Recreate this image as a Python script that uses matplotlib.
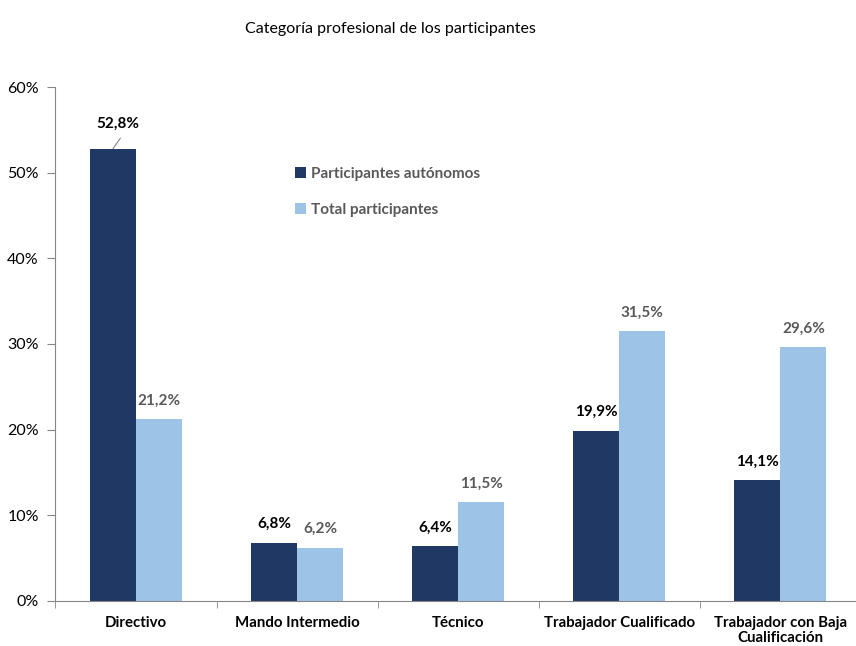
import matplotlib.pyplot as plt
import numpy as np

# Datos
categorias = ["Directivo", "Mando Intermedio", "Técnico", "Trabajador Cualificado",
              "Trabajador con Baja\nCualificación"]
autonomos = [52.8, 6.8, 6.4, 19.9, 14.1]
total = [21.2, 6.2, 11.5, 31.5, 29.6]
series = ["Participantes autónomos", "Total participantes"]

c_dark = "#203864"
c_light = "#9DC3E6"
gris = "#868686"

plt.rcParams["font.family"] = ["Lato", "DejaVu Sans"]

fig = plt.figure(figsize=(8.56, 6.46), dpi=100)
ax = fig.add_axes([0.0648, 0.0697, 0.941, 0.7956])

x = np.arange(len(categorias))
w = 0.286
b1 = ax.bar(x - w / 2, autonomos, w, color=c_dark, label=series[0])
b2 = ax.bar(x + w / 2, total, w, color=c_light, label=series[1])

ax.set_xlim(-0.5, len(categorias) - 0.5)
ax.set_ylim(0, 60)
ax.set_yticks(range(0, 61, 10))
ax.set_yticklabels([f"{v}%" for v in range(0, 61, 10)], fontsize=11.5)
ax.set_xticks(x)
ax.set_xticklabels(categorias, fontsize=10.8, fontweight="bold", linespacing=1.1)
ax.set_xticks(np.arange(-0.5, len(categorias), 1), minor=True)
ax.tick_params(axis="x", which="major", length=0, pad=11)
ax.tick_params(axis="x", which="minor", length=5, color=gris)
ax.tick_params(axis="y", length=6, color=gris, pad=6)

for s in ["top", "right"]:
    ax.spines[s].set_visible(False)
for s in ["left", "bottom"]:
    ax.spines[s].set_color(gris)

# Etiquetas de valores
for i, v in enumerate(autonomos):
    txt = f"{v:.1f}%".replace(".", ",")
    if i == 0:
        ax.annotate(txt, xy=(x[i] - w / 2, v), xytext=(x[i] - w / 2 + 0.03, v + 2.9),
                    ha="center", va="center", fontsize=11, fontweight="bold", color="black",
                    arrowprops=dict(arrowstyle="-", color=gris, lw=0.8, relpos=(0.68, 0.0),
                                    shrinkA=4, shrinkB=0))
    else:
        ax.text(x[i] - w / 2, v + 2.2, txt, ha="center", va="center",
                fontsize=11, fontweight="bold", color="black")
for i, v in enumerate(total):
    txt = f"{v:.1f}%".replace(".", ",")
    ax.text(x[i] + w / 2, v + 2.2, txt, ha="center", va="center",
            fontsize=11, fontweight="bold", color="#595959")

leg = ax.legend(loc="upper left", bbox_to_anchor=(0.28, 0.872), frameon=False,
                handlelength=0.75, handleheight=0.75, handletextpad=0.3,
                labelspacing=1.45, prop={"size": 11, "weight": "bold"})
for t in leg.get_texts():
    t.set_color("#595959")

fig.text(0.456, 0.955, "Categoría profesional de los participantes",
         ha="center", va="center", fontsize=11.5)

fig.savefig("out.png", dpi=100)
